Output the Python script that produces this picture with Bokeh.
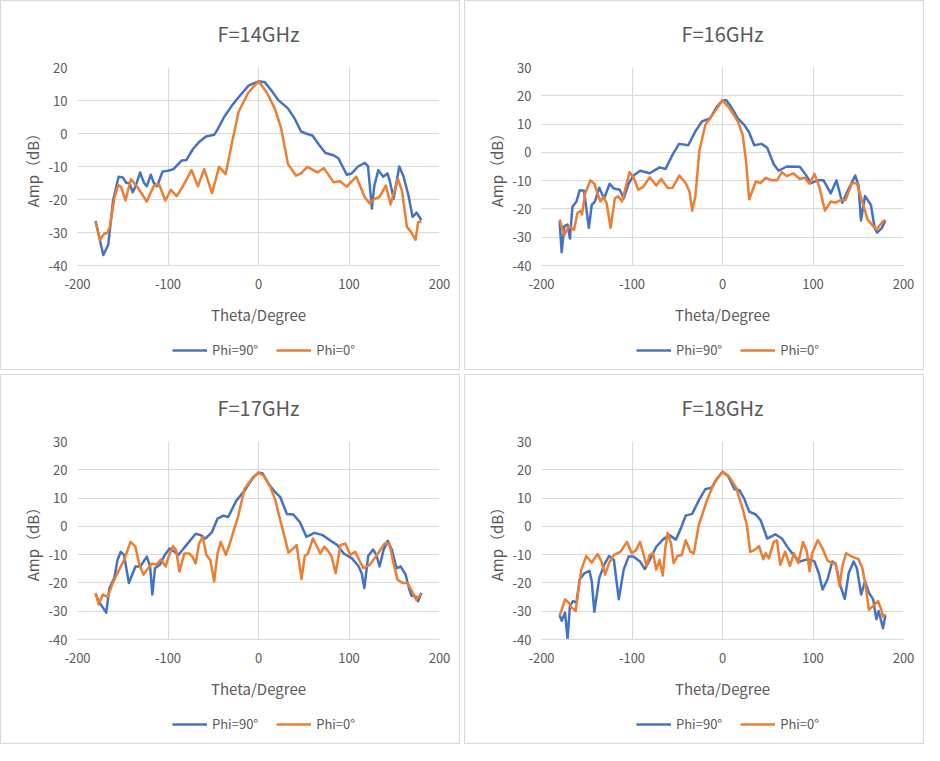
from bokeh.plotting import figure
from bokeh.layouts import column, row
from bokeh.models import Range1d, Legend, LegendItem, FixedTicker
from bokeh.embed import file_html
from bokeh.resources import INLINE

# ---------------- data ----------------
titles = ["F=14GHz", "F=16GHz", "F=17GHz", "F=18GHz"]
series_names = ["Phi=90°", "Phi=0°"]
x_ticks = [-200, -100, 0, 100, 200]
y_ticks_14 = [-40, -30, -20, -10, 0, 10, 20]
y_ticks_other = [-40, -30, -20, -10, 0, 10, 20, 30]

# F=14GHz
f14_phi90_theta = [-180, -171.5, -166, -160.7, -154.6, -150, -146, -142.7, -139, -135.5, -130.8, -126.5, -123.5, -119, -115.6, -112, -106, -100, -94, -85, -79.6, -72.4, -65, -58, -49, -45.5, -38, -29, -22, -11, 0, 7, 14.4, 21.6, 32.5, 39.8, 47, 52.3, 59.6, 66.8, 74, 83, 88.5, 97.5, 103, 110, 117.4, 121, 125.3, 128, 132.4, 137.8, 142.5, 145, 149.4, 155.5, 160, 165.7, 170.3, 174.7, 180]
f14_phi90_amp = [-26.5, -36.8, -33.7, -20.3, -13.1, -13.3, -15, -15, -17.8, -15.8, -11.8, -15, -16, -12.5, -15, -16, -11.5, -11.3, -10.8, -8.2, -8, -4.7, -2.4, -0.9, -0.4, 1.1, 5, 8.6, 11, 14.5, 15.8, 15.5, 13, 10.2, 7.6, 4.6, 0.6, 0, -0.6, -3.4, -5.9, -6.6, -7.6, -12.5, -12.1, -10, -8.9, -9.9, -22.8, -15.8, -11.1, -13.1, -12.1, -14.3, -19.8, -10, -12.8, -18.8, -25.3, -24, -26.3]
f14_phi0_theta = [-180, -175, -170, -167, -164.3, -159, -155, -151.7, -147, -141, -133.6, -123.5, -115.6, -110, -103, -96.8, -90.4, -83.2, -74, -67, -60, -51.4, -43.5, -36.3, -29, -22, -11, 0, 9, 18, 25, 32.5, 41.5, 47, 54, 65, 72.3, 83, 90, 97.5, 108, 117.4, 122.8, 128, 133.6, 140.7, 146, 154, 158.5, 164, 168.5, 173.6, 176.4, 180]
f14_phi0_amp = [-26.8, -32.2, -30.2, -30.2, -28.3, -19.3, -15.6, -16.3, -20.3, -13.8, -16.3, -20.6, -15.8, -15.3, -20.3, -17.1, -19, -15.8, -11.1, -16, -10.8, -18.1, -10.1, -12.3, -2.4, 6.6, 12.5, 15.8, 12.5, 7.6, 1.6, -9.2, -12.8, -12.1, -10.1, -11.8, -10.5, -14.8, -14.5, -16.1, -13.1, -19.3, -21.1, -19.8, -19.3, -15.8, -21.5, -13.8, -17.3, -28.3, -29.8, -32.2, -26.8, -26.8]

# F=16GHz
f16_phi90_theta = [-180, -177.7, -174.8, -171.2, -168.6, -165.8, -161.4, -157.8, -153, -147.7, -144.5, -141, -136.2, -130.8, -124.7, -120, -113.5, -109.2, -103.8, -98.4, -91, -80.4, -69.5, -63, -55, -48, -37.8, -30, -22.7, -13.7, -6.5, 0, 4.3, 9.7, 17, 24, 29.5, 35, 43.2, 49.4, 56.6, 62, 71, 85.4, 92.6, 98, 105, 111.7, 119.6, 126, 132.3, 137.7, 146.7, 150.3, 153, 157.5, 164, 168.3, 170.8, 176.2, 180]
f16_phi90_amp = [-24.4, -35.3, -26.1, -25.5, -30.5, -19.2, -17.4, -13.4, -13.6, -26.7, -18.6, -17.4, -12.5, -16.3, -11.1, -12.8, -13.2, -16.3, -11.1, -8.2, -6.5, -7.4, -5.3, -5.9, -0.7, 3, 2.5, 7.4, 10.9, 12, 16, 18.4, 18.4, 16, 12, 9.7, 7, 2.5, 3, 1.6, -4.2, -6.5, -5, -5.1, -8.2, -10.9, -9.9, -9.9, -14.5, -9.9, -17.8, -14, -8.2, -11.7, -24.1, -15.4, -18.6, -27, -28.4, -26.7, -24]
f16_phi0_theta = [-180, -174.8, -170, -164, -160.4, -156.8, -155.3, -151.7, -146, -141.6, -135, -131.5, -128, -123.6, -119, -115.3, -111, -102.7, -98.4, -93, -87.6, -80.4, -73.2, -67.7, -60.5, -55, -47.7, -40.5, -36.4, -33.5, -30, -25.6, -19, -10, 0, 8, 17, 22.3, 26, 29.5, 36.8, 42, 47.6, 54.8, 60.2, 65.6, 71, 78.2, 85.4, 90.8, 96.2, 101.6, 107, 113.2, 119.6, 125, 130.5, 136, 143, 148.5, 153.9, 160.4, 166.5, 170, 177.3, 180]
f16_phi0_amp = [-23.8, -29.3, -26.1, -27.3, -21.5, -20.6, -22, -14.5, -9.9, -11.1, -17.4, -15.7, -18, -26.7, -16.3, -15.5, -17.4, -7, -8.8, -13.2, -12.2, -8.8, -11.7, -9.4, -12.6, -12.5, -8.2, -10.9, -14, -20.6, -15.7, 0.5, 9.7, 13.7, 18.4, 15.5, 10.9, 6.2, -3, -16.6, -10.3, -10.9, -9, -9.9, -9.9, -7, -8.4, -7.4, -9.4, -9, -11.1, -7.6, -12.2, -20.6, -17.4, -17.8, -16.9, -16.9, -10.9, -10.9, -16.9, -23.8, -26.1, -27.3, -24.4, -24]

# F=17GHz
f17_phi90_theta = [-180, -175.5, -168.3, -164.7, -159.4, -155.8, -152.2, -148.6, -143.2, -136, -130.6, -123.4, -119.8, -117.3, -114.4, -109, -103.6, -98.2, -92.8, -88.5, -78.4, -69.4, -64, -58.6, -51.4, -45.3, -38.8, -33.5, -24.5, -15.5, -6.5, 0, 4.3, 11.5, 18.7, 24.1, 31.3, 38.5, 45.7, 52.9, 61.9, 70.9, 81.7, 87, 94.2, 103.2, 110.4, 114, 116.9, 121.2, 126.6, 130.2, 133.8, 138.1, 142.8, 147.5, 152.5, 157.2, 162.6, 166.2, 169, 173.4, 176.3, 180]
f17_phi90_amp = [-24.1, -27, -30.5, -21.8, -18.3, -11.9, -9, -10.1, -20, -14.2, -14.2, -10.7, -14.2, -24.1, -14.8, -13.6, -10.1, -7.8, -9, -10.1, -6.1, -2.6, -3.1, -4.3, -2, 2.7, 3.8, 3.3, 9.1, 12.6, 17, 19, 18.8, 14.9, 12, 10.3, 4.4, 4.2, 1.5, -3.7, -2.3, -3.1, -5.5, -6.6, -9.6, -11.3, -14, -16.6, -21.8, -10.5, -8.2, -10.1, -14.2, -8.4, -5.1, -8.4, -14.8, -14.2, -17.1, -21.8, -24.5, -24.7, -26.5, -23.5]
f17_phi0_theta = [-180, -176.6, -172, -166.5, -161, -154, -148.6, -141.4, -136, -131.7, -127, -123.4, -118, -112.6, -108, -102.5, -99.3, -94.6, -91, -87.4, -82, -76.6, -73, -69.4, -65.8, -61.5, -57.6, -53.2, -49, -45.3, -41.7, -36, -31.7, -27.3, -22.7, -15.5, -6.5, 0, 6.1, 13.3, 18.7, 24.1, 28.8, 33.1, 38.5, 42.1, 47.5, 51.1, 54.7, 60.1, 64.7, 68.3, 72.7, 76.3, 80.6, 85.3, 90.6, 96, 101.4, 106.8, 115.8, 123, 132, 139.2, 144.6, 149.3, 153.6, 159, 164.4, 169.8, 174.1, 180]
f17_phi0_amp = [-23.5, -27.6, -24.1, -24.9, -20, -15.4, -11.9, -5.5, -7.2, -13.6, -17.1, -15.4, -13.1, -13.6, -11.7, -14.2, -10.7, -7, -8.4, -16, -9.6, -9.6, -10.7, -13.1, -6.1, -3.7, -10.1, -11.9, -19.5, -9.6, -5.5, -10.1, -6.1, -1.4, 3.3, 13.2, 17.2, 19, 17.8, 13.8, 9.1, 2.1, -3.7, -9.3, -7.8, -6.6, -18.6, -10.5, -9.6, -4.3, -7.2, -9.6, -7.2, -8.4, -10.5, -16.6, -6.6, -6.1, -10.1, -9, -14.8, -13.6, -9.6, -6.1, -6.1, -13.1, -18.9, -20, -20, -23, -25.9, -23.8]

# F=18GHz
f18_phi90_theta = [-180, -177.7, -174, -171.2, -168.6, -165, -161.4, -157.8, -152.4, -147, -144.5, -141.6, -136.2, -130.8, -125.4, -120, -114.6, -109.2, -103.8, -98.4, -91.2, -85.8, -80.4, -73.2, -66, -58.7, -51.5, -46.1, -40.7, -33.5, -26.3, -19.1, -11.9, -6.5, 0, 6.1, 13.3, 18.7, 24.1, 29.5, 36.8, 42.2, 49.4, 58.4, 65.6, 72.8, 80, 85.4, 94.4, 101.6, 106.3, 110.6, 116, 121.4, 125, 130.5, 135.1, 139.5, 144.9, 148.5, 153.2, 157.5, 161.8, 166.5, 170, 172.6, 177.3, 180]
f18_phi90_amp = [-31.4, -33.4, -30.5, -39.8, -28.1, -26.4, -27, -18.8, -16.5, -15.7, -19.4, -30.2, -18.3, -13.6, -10.5, -11.9, -25.8, -15.3, -10.7, -10.7, -12.4, -15.1, -11.9, -7.2, -4.7, -3.1, -4.7, -0.8, 3.8, 4.4, 9.1, 13.1, 13.7, 16.6, 19.3, 17.8, 13.1, 12.8, 9.7, 5.2, 4.2, 2.1, -4.3, -2.8, -4.3, -7.8, -10.7, -12.4, -11.6, -12.4, -16.5, -22.3, -18.8, -12.4, -13.3, -21.2, -25.6, -16.5, -12.4, -14.8, -24.1, -19.4, -23.5, -25.8, -32.8, -29.9, -36, -31.4]
f18_phi0_theta = [-180, -178.4, -174, -169.7, -166.8, -162.2, -159.6, -156, -150.6, -144.5, -138, -133.7, -129.7, -125.4, -120, -112.8, -105.6, -100.2, -95.5, -91.2, -87.6, -84, -80.4, -76.8, -73.2, -69.5, -66, -63, -60.5, -56.9, -54, -49.7, -45, -40.7, -35.3, -31.7, -26.3, -17.3, -8.3, 0, 6.8, 15.1, 22.3, 27, 30.6, 35, 40.4, 45, 47.6, 51.2, 56.6, 60.2, 63.8, 69.2, 74.6, 78.9, 83.6, 89, 93.3, 96.2, 99.1, 105.2, 110.6, 116, 121.4, 125, 129.4, 132.3, 136.6, 143, 150.3, 154.6, 158.2, 161.8, 166.5, 171.9, 175.5, 177.3, 180]
f18_phi0_amp = [-31.4, -30.2, -25.8, -27, -28.7, -29.9, -23.5, -15.3, -10.5, -12.8, -9.8, -12.4, -17.1, -13, -10.1, -9, -5.5, -9.5, -8.4, -5.5, -9.5, -14, -10.1, -9.5, -15.3, -11.9, -17.4, -7.2, -2.3, -6, -13, -10.5, -10.1, -4.9, -9, -9.5, 0.3, 9.1, 16, 19.3, 17.8, 13.7, 6.2, 0.3, -9, -8.4, -7, -11.6, -9.5, -11.3, -5.5, -4.9, -13.6, -9, -14, -9.5, -13, -5.5, -9, -15.9, -9.5, -4.9, -7.8, -12.1, -13, -13, -21.2, -14.2, -9.5, -10.7, -11.6, -14.8, -21.2, -29.5, -28.1, -26.4, -29.5, -31.9, -31]

panels = [
    (titles[0], (-40, 20), y_ticks_14, f14_phi90_theta, f14_phi90_amp, f14_phi0_theta, f14_phi0_amp),
    (titles[1], (-40, 30), y_ticks_other, f16_phi90_theta, f16_phi90_amp, f16_phi0_theta, f16_phi0_amp),
    (titles[2], (-40, 30), y_ticks_other, f17_phi90_theta, f17_phi90_amp, f17_phi0_theta, f17_phi0_amp),
    (titles[3], (-40, 30), y_ticks_other, f18_phi90_theta, f18_phi90_amp, f18_phi0_theta, f18_phi0_amp),
]

BLUE = "#4472C4"
ORANGE = "#ED7D31"
TXT = "#595959"
GRID = "#d9d9d9"
FONT = "Noto Sans CJK SC"
W = 458          # inner width of a panel
H_MAIN = 330     # chart part of a panel
H_LEG = 38       # legend strip of a panel


def make_panel(title, yr, yticks, t90, a90, t0, a0):
    p = figure(width=W, height=H_MAIN, output_backend="svg", toolbar_location=None,
               x_range=Range1d(-200, 200), y_range=Range1d(*yr),
               min_border_left=76, min_border_right=20, min_border_top=62, min_border_bottom=66)
    p.outline_line_color = None
    p.background_fill_color = "white"
    p.border_fill_color = "white"

    p.title.text = title
    p.title.align = "center"
    p.title.vertical_align = "top"
    p.title.text_font = FONT
    p.title.text_font_size = "20px"
    p.title.text_font_style = "normal"
    p.title.text_color = TXT
    p.title.standoff = 35

    p.xaxis.ticker = FixedTicker(ticks=x_ticks)
    p.yaxis.ticker = FixedTicker(ticks=yticks)
    p.xaxis.major_label_overrides = {t: str(t) for t in x_ticks}
    p.yaxis.major_label_overrides = {t: str(t) for t in yticks}
    for ax in (p.xaxis[0], p.yaxis[0]):
        ax.major_tick_out = 0
        ax.major_tick_in = 0
        ax.minor_tick_out = 0
        ax.minor_tick_in = 0
        ax.major_label_text_font = FONT
        ax.major_label_text_font_size = "13px"
        ax.major_label_text_color = TXT
        ax.axis_label_text_font = FONT
        ax.axis_label_text_font_size = "15px"
        ax.axis_label_text_font_style = "normal"
        ax.axis_label_text_color = TXT
    p.xaxis.axis_line_color = GRID
    p.xaxis.axis_line_width = 1
    p.yaxis.axis_line_color = None
    p.xaxis.major_label_standoff = 13
    p.yaxis.major_label_standoff = 10
    p.xaxis.axis_label = "Theta/Degree"
    p.yaxis.axis_label = "Amp（dB）"
    p.xaxis.axis_label_standoff = 12
    p.yaxis.axis_label_standoff = 3

    p.xgrid.grid_line_color = GRID
    p.ygrid.grid_line_color = GRID
    p.xgrid.grid_line_width = 1
    p.ygrid.grid_line_width = 1

    p.line(t90, a90, line_color=BLUE, line_width=2.5, line_join="round")
    p.line(t0, a0, line_color=ORANGE, line_width=2.5, line_join="round")

    # legend strip: a small figure under the chart; its renderers reuse the
    # series but its y range keeps them out of view, so only the legend shows
    lf = figure(width=W, height=H_LEG, output_backend="svg", toolbar_location=None,
                x_range=Range1d(-200, 200), y_range=Range1d(1000, 1001),
                min_border=0, min_border_left=0, min_border_right=0,
                min_border_top=0, min_border_bottom=0)
    lf.axis.visible = False
    lf.grid.visible = False
    lf.outline_line_color = None
    lf.border_fill_color = "white"
    l1 = lf.line(t90, a90, line_color=BLUE, line_width=2.5)
    l2 = lf.line(t0, a0, line_color=ORANGE, line_width=2.5)
    leg = Legend(items=[LegendItem(label=series_names[0], renderers=[l1]),
                        LegendItem(label=series_names[1], renderers=[l2])],
                 orientation="horizontal", location=(95, 10))
    leg.border_line_color = None
    leg.background_fill_alpha = 0
    leg.label_text_font = FONT
    leg.label_text_font_size = "13px"
    leg.label_text_color = TXT
    leg.glyph_width = 35
    leg.glyph_height = 14
    leg.label_standoff = 5
    leg.spacing = 18
    leg.padding = 4
    leg.margin = 0
    lf.add_layout(leg)

    return column(p, lf, spacing=0, styles={"border": "1px solid #d9d9d9"})


cells = [make_panel(*pp) for pp in panels]
layout = column(row(cells[0], cells[1], spacing=4), row(cells[2], cells[3], spacing=4), spacing=4)

open("out.html", "w").write(file_html(layout, INLINE))
